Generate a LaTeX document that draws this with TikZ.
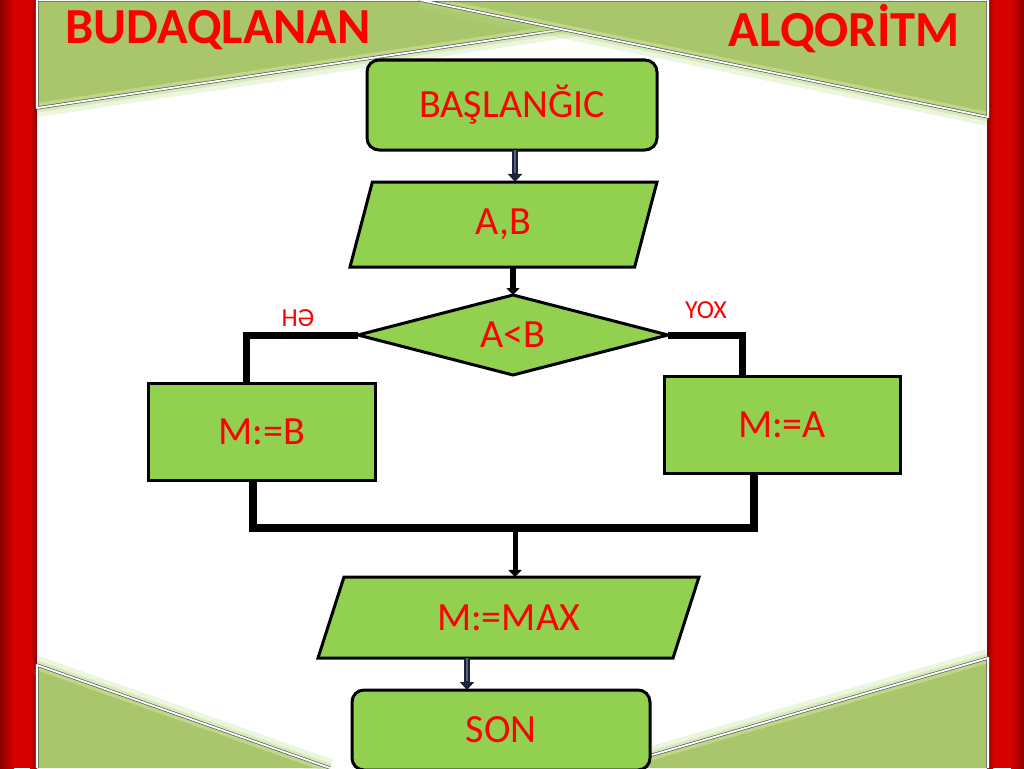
\documentclass[tikz,border=0pt]{standalone}
\usepackage{fontspec}
\setmainfont{Carlito}
\usetikzlibrary{shapes.geometric,arrows.meta}
\definecolor{boxgreen}{HTML}{92D050}
\definecolor{bangreen}{HTML}{A9C66C}
\definecolor{banlight}{HTML}{CFE59A}
\definecolor{glowgreen}{HTML}{B5D97A}
\definecolor{txtred}{HTML}{FF0000}
\definecolor{barred}{HTML}{D60000}
\definecolor{bardark}{HTML}{8A0000}
\definecolor{navyline}{HTML}{1A2338}
\definecolor{navyin}{HTML}{52617F}
\begin{document}
\begin{tikzpicture}[x=1pt,y=-1pt,
  base/.style={draw=black, line width=3pt, fill=boxgreen, text=txtred,
    font=\fontsize{40}{42}\selectfont, inner sep=0pt, outer sep=0pt},
  termbox/.style={base, rectangle, rounded corners=12pt},
  procbox/.style={base, rectangle},
  iobox/.style={base, trapezium, trapezium stretches body},
  decbox/.style={base, diamond, aspect=3.9},
  flow/.style={draw=black, line width=7pt, line join=miter},
  navyarr/.style={draw=navyline, line width=6pt, -{Triangle[width=14pt,length=8pt]}},
  navyinner/.style={draw=navyin, line width=1.2pt, shorten >=9pt},
  blackarr/.style={draw=black, line width=6pt, -{Triangle[width=13pt,length=7pt]}},
  lbl/.style={text=txtred, font=\fontsize{26}{28}\selectfont, inner sep=0pt},
  titletxt/.style={text=txtred, font=\bfseries\fontsize{50.5}{52}\selectfont, inner sep=0pt},
  banfill/.style={fill=bangreen},
  banedge/.style={draw=gray!70!black, line width=3.2pt, line join=round},
  banwhite/.style={draw=white, line width=1.8pt, line join=round},
  glowA/.style={draw=glowgreen, line width=18pt, opacity=0.25},
  glowB/.style={draw=glowgreen, line width=9pt, opacity=0.35},
  banhi/.style={draw=banlight, line width=10pt, opacity=0.6}
]
\useasboundingbox (0,0) rectangle (1024,768);
\fill[white] (0,0) rectangle (1024,768);

% red side bars
\shade[left color=bardark, right color=barred] (0,0) rectangle (14,768);
\fill[barred] (14,0) rectangle (30,768);
\shade[left color=barred, right color=bardark] (30,0) rectangle (37,768);
\shade[left color=bardark, right color=barred] (987,0) rectangle (993,768);
\fill[barred] (993,0) rectangle (1011,768);
\shade[left color=barred, right color=bardark] (1011,0) rectangle (1024,768);

% top-left banner
\draw[glowA] (37,108) -- (760,0);
\draw[glowB] (37,108) -- (760,0);
\path[banfill] (37,0) -- (760,0) -- (37,108) -- cycle;
\begin{scope}
  \clip (37,0) -- (760,0) -- (37,108) -- cycle;
  \draw[banhi] (37,108) -- (760,0);
\end{scope}
\draw[banedge] (37,0) -- (760,0) -- (37,108) -- cycle;
\draw[banwhite] (37,0) -- (760,0) -- (37,108) -- cycle;

% top-right banner
\draw[glowA] (420,0) -- (988,117);
\draw[glowB] (420,0) -- (988,117);
\path[banfill] (420,0) -- (988,0) -- (988,117) -- cycle;
\begin{scope}
  \clip (420,0) -- (988,0) -- (988,117) -- cycle;
  \draw[banhi] (420,0) -- (988,117);
\end{scope}
\draw[banedge] (420,0) -- (988,0) -- (988,117) -- cycle;
\draw[banwhite] (420,0) -- (988,0) -- (988,117) -- cycle;

% bottom-left banner
\draw[glowA] (37,665) -- (330,768);
\draw[glowB] (37,665) -- (330,768);
\path[banfill] (37,665) -- (330,768) -- (37,768) -- cycle;
\begin{scope}
  \clip (37,665) -- (330,768) -- (37,768) -- cycle;
  \draw[banhi] (37,665) -- (330,768);
\end{scope}
\draw[banedge] (37,768) -- (37,665) -- (330,768);
\draw[banwhite] (37,768) -- (37,665) -- (330,768);

% bottom-right banner
\draw[glowA] (988,658) -- (607,768);
\draw[glowB] (988,658) -- (607,768);
\path[banfill] (988,658) -- (988,768) -- (607,768) -- cycle;
\begin{scope}
  \clip (988,658) -- (988,768) -- (607,768) -- cycle;
  \draw[banhi] (988,658) -- (607,768);
\end{scope}
\draw[banedge] (988,768) -- (988,658) -- (607,768);
\draw[banwhite] (988,768) -- (988,658) -- (607,768);

% titles
\node[titletxt, anchor=base west] (t1) at (65,44) {BUDAQLANAN};
\node[titletxt, anchor=base east] (t2) at (960,46) {ALQORİTM};

% flowchart nodes
\node[termbox, minimum width=290pt, minimum height=90pt] (start) at (512,105) {BAŞLANĞIC};
\node[iobox, trapezium left angle=54, trapezium right angle=126,
      minimum width=307pt, minimum height=85pt] (ab) at (503.5,224.5) {A,B};
\node[decbox, minimum width=310pt, minimum height=80pt] (dia) at (513,335) {A<B};
\node[procbox, minimum width=227pt, minimum height=97pt] (mb) at (261.5,431.5) {M:=B};
\node[procbox, minimum width=236pt, minimum height=97pt] (ma) at (782,424.5) {M:=A};
\node[iobox, trapezium left angle=45, trapezium right angle=135,
      minimum width=381pt, minimum height=81pt] (mm) at (508.5,617.5) {M:=MAX};
\node[termbox, minimum width=298pt, minimum height=80pt] (so) at (501,730) {SON};

% labels
\node[lbl] (he) at (298,318) {HƏ};
\node[lbl] (yox) at (706,310) {YOX};

% helper coordinates
\coordinate (c1) at (515,0);
\coordinate (lb) at (246,335);
\coordinate (rb) at (742,335);
\coordinate (jl) at (253,528);
\coordinate (jr) at (754,528);
\coordinate (jm) at (515,528);
\coordinate (sa) at (467,0);

% connectors
\draw[navyarr] (c1 |- start.south) -- (c1 |- ab.north);
\draw[navyinner] (c1 |- start.south) -- (c1 |- ab.north);
\draw[blackarr] (dia.north |- ab.south) -- (dia.north);
\draw[flow] (dia.west) -- (lb) -- (lb |- mb.north);
\draw[flow] (dia.east) -- (rb) -- (rb |- ma.north);
\draw[flow, line width=8pt] (jl |- mb.south) -- (jl) -- (jr) -- (jr |- ma.south);
\draw[blackarr, line width=5pt] (jm) -- (jm |- mm.north);
\draw[navyarr] (sa |- mm.south) -- (sa |- so.north);
\draw[navyinner] (sa |- mm.south) -- (sa |- so.north);
\end{tikzpicture}
\end{document}
